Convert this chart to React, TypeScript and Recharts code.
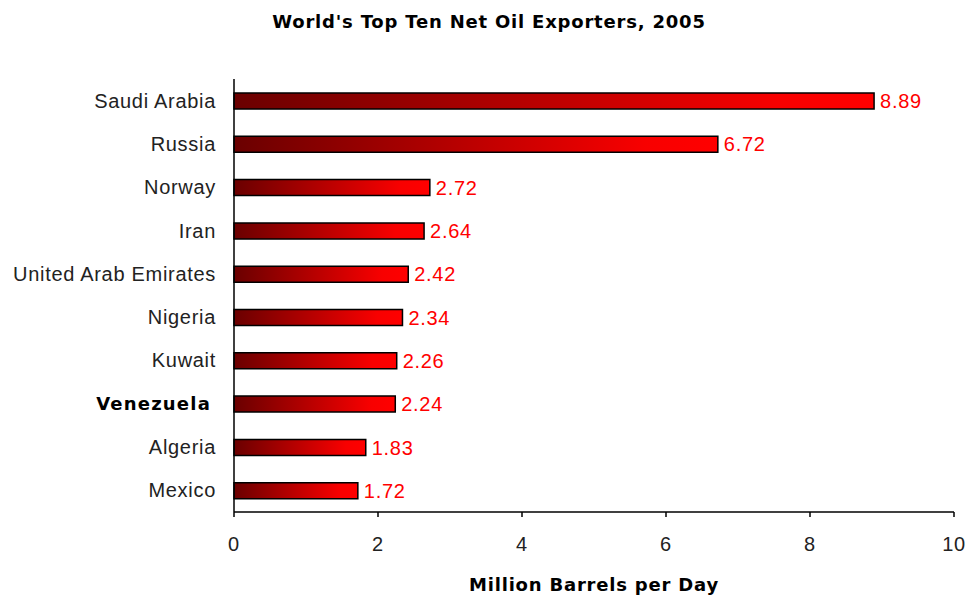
import { BarChart, Bar, XAxis, YAxis, LabelList } from "recharts";

const countries = [
  "Saudi Arabia",
  "Russia",
  "Norway",
  "Iran",
  "United Arab Emirates",
  "Nigeria",
  "Kuwait",
  "Venezuela",
  "Algeria",
  "Mexico",
];
const exports = [8.89, 6.72, 2.72, 2.64, 2.42, 2.34, 2.26, 2.24, 1.83, 1.72];
const xTicks = [0, 2, 4, 6, 8, 10];
const highlighted = "Venezuela";

const data = countries.map((name, i) => ({ name, value: exports[i] }));

const SANS = "Liberation Sans, Arial, sans-serif";

const CountryTick = (props: any) => {
  const { x, y, payload } = props;
  const bold = payload.value === highlighted;
  return (
    <text
      x={bold ? x - 5 : x}
      y={y}
      dy="0.35em"
      textAnchor="end"
      fill={bold ? "#000" : "#222"}
      fontSize={bold ? 18 : 20}
      fontWeight={bold ? 900 : 400}
      letterSpacing={bold ? 1.2 : 0.7}
      fontFamily={bold ? "DejaVu Sans" : SANS}
    >
      {payload.value}
    </text>
  );
};

const headingStyle = {
  position: "absolute" as const,
  fontFamily: "DejaVu Sans",
  fontWeight: 900,
  fontSize: 18,
  lineHeight: "22px",
  letterSpacing: 0.8,
  color: "#000",
  textAlign: "center" as const,
};

export default function App() {
  return (
    <div style={{ position: "absolute", left: 0, top: 0, width: 967, height: 596, background: "#fff" }}>
      <div style={{ ...headingStyle, top: 11, left: 0, width: 978 }}>
        World's Top Ten Net Oil Exporters, 2005
      </div>
      <BarChart
        width={967}
        height={596}
        data={data}
        layout="vertical"
        margin={{ top: 79, right: 13, bottom: 54, left: 0 }}
        barCategoryGap={0}
      >
        <defs>
          <linearGradient id="oilGradient" x1="0" y1="0" x2="1" y2="0">
            <stop offset="0%" stopColor="#6a0000" />
            <stop offset="85%" stopColor="#f80000" />
            <stop offset="100%" stopColor="#ff0000" />
          </linearGradient>
        </defs>
        <XAxis
          type="number"
          domain={[0, 10]}
          ticks={xTicks}
          tickSize={5}
          tickMargin={20}
          axisLine={{ stroke: "#000", strokeWidth: 1.5 }}
          tickLine={{ stroke: "#000", strokeWidth: 1.5 }}
          tick={{ fill: "#222", fontSize: 20, fontFamily: SANS, letterSpacing: 0.7 }}
        />
        <YAxis
          type="category"
          dataKey="name"
          width={234}
          tickLine={false}
          tickSize={0}
          tickMargin={18}
          axisLine={{ stroke: "#000", strokeWidth: 1.5 }}
          tick={<CountryTick />}
          interval={0}
        />
        <Bar
          dataKey="value"
          barSize={16}
          fill="url(#oilGradient)"
          stroke="#000"
          strokeWidth={1.5}
          isAnimationActive={false}
        >
          <LabelList
            dataKey="value"
            position="right"
            offset={6}
            fill="#ff0000"
            fontSize={20}
            letterSpacing={0.7}
            fontFamily={SANS}
            formatter={(v: any) => Number(v).toFixed(2)}
          />
        </Bar>
      </BarChart>
      <div style={{ ...headingStyle, top: 574, left: 234, width: 720 }}>
        Million Barrels per Day
      </div>
    </div>
  );
}
